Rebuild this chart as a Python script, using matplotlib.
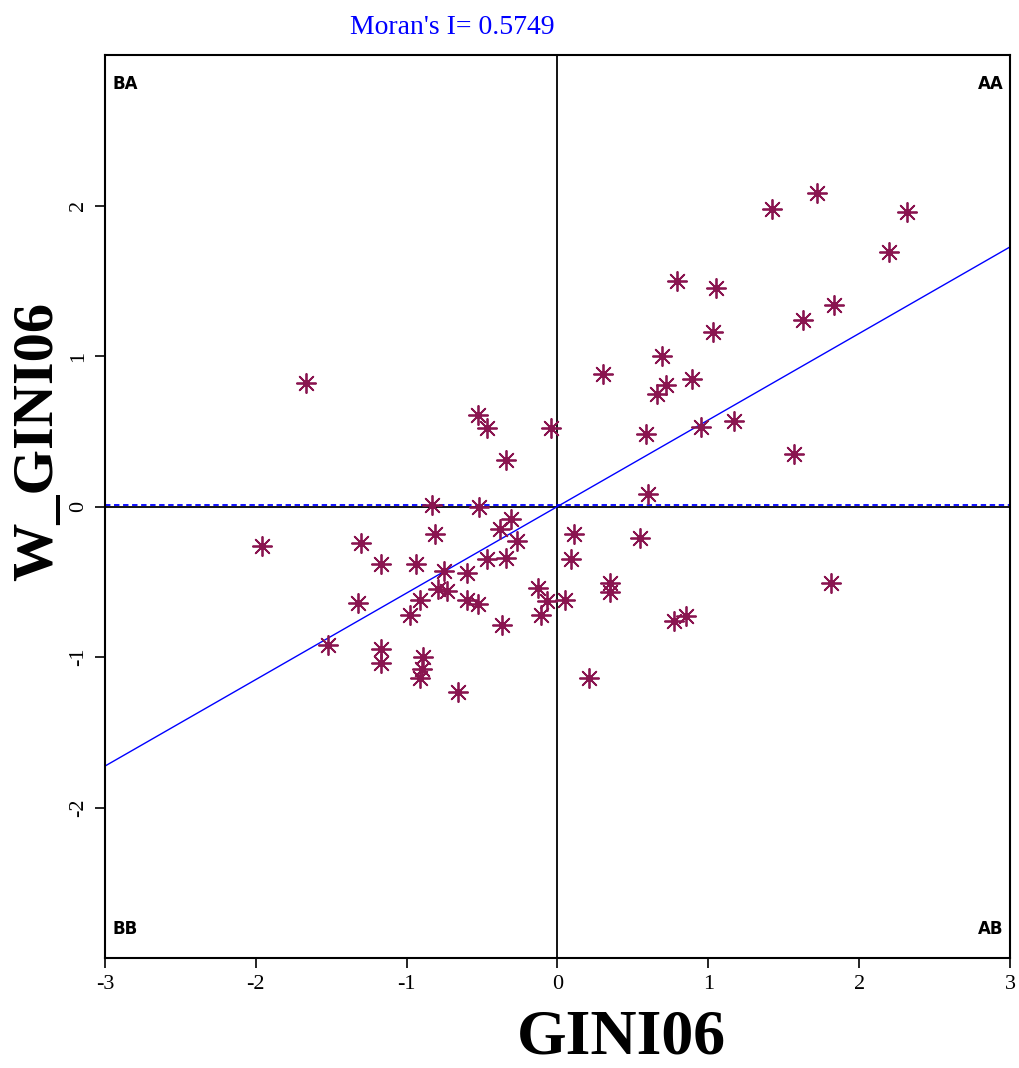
import matplotlib
matplotlib.use("Agg")
import matplotlib.pyplot as plt
import numpy as np

# --- data (standardised GINI06 and its spatial lag W_GINI06) ---
gini06 = [-1.67, -0.53, -0.47, -0.04, -0.34, -0.83, -0.52, -1.96, -1.30, -0.81,
          -0.31, -0.38, -0.27, -1.17, -0.94, -0.75, -0.60, -0.47, -0.34, -0.79,
          -0.73, -0.60, -0.53, -0.91, -1.32, -0.98, -0.37, -0.13, -0.07, -0.11,
          -1.52, -1.17, -1.17, -0.89, -0.90, -0.91, -0.66,
          0.60, 0.11, 0.55, 0.09, 0.35, 0.35, 1.81, 0.05, 0.77, 0.85, 0.21,
          1.42, 1.72, 2.32, 2.20, 0.79, 1.05, 1.83, 1.63, 1.03, 0.69, 0.30,
          0.72, 0.66, 0.89, 0.59, 0.95, 1.17, 1.57]
w_gini06 = [0.82, 0.61, 0.52, 0.52, 0.31, 0.01, 0.00, -0.26, -0.24, -0.18,
            -0.08, -0.15, -0.23, -0.38, -0.38, -0.43, -0.44, -0.35, -0.34, -0.55,
            -0.56, -0.62, -0.65, -0.62, -0.64, -0.72, -0.79, -0.54, -0.63, -0.72,
            -0.92, -0.95, -1.04, -1.00, -1.08, -1.14, -1.23,
            0.08, -0.18, -0.21, -0.35, -0.51, -0.57, -0.51, -0.62, -0.76, -0.73, -1.14,
            1.98, 2.08, 1.96, 1.69, 1.50, 1.45, 1.34, 1.24, 1.16, 1.00, 0.88,
            0.81, 0.75, 0.85, 0.48, 0.53, 0.57, 0.35]
moran_i = 0.5749
x_ticks = [-3, -2, -1, 0, 1, 2, 3]
y_ticks = [-2, -1, 0, 1, 2]
quadrants = ["BA", "AA", "BB", "AB"]

serif = ["Liberation Serif", "DejaVu Serif"]
mcolor = "#8A1550"

fig = plt.figure(figsize=(10.2, 10.68), dpi=100)
ax = fig.add_axes([105 / 1020, 110 / 1068, 905 / 1020, 903 / 1068])
ax.set_xlim(-3, 3)
ax.set_ylim(-3, 3)

ax.axvline(0, color="black", lw=1.3, zorder=1)
ax.axhline(0, color="black", lw=1.3, zorder=1)
ax.axhline(0.012, color="blue", lw=1.3, ls=(0, (3, 2)), zorder=2)
xl = np.array([-3, 3])
ax.plot(xl, moran_i * xl, color="blue", lw=1.0, zorder=2)

ax.scatter(gini06, w_gini06, marker=(8, 2, 0), s=190, color=mcolor,
           linewidths=1.3, zorder=3)
ax.scatter(gini06, w_gini06, marker="o", s=26, color=mcolor,
           linewidths=0, zorder=4)

ax.set_xticks(x_ticks)
ax.set_yticks(y_ticks)
ax.set_xticklabels([str(v) for v in x_ticks], fontfamily=serif, fontsize=16)
ax.set_yticklabels([str(v) for v in y_ticks], fontfamily=serif, fontsize=16,
                   rotation=90, va="center")
ax.tick_params(direction="out", length=7, width=1.2, pad=5)
for s in ax.spines.values():
    s.set_linewidth(1.5)

qkw = dict(transform=ax.transAxes, fontsize=12, fontweight="heavy",
           fontfamily="DejaVu Sans")
ax.text(0.008, 0.978, quadrants[0], ha="left", va="top", **qkw)
ax.text(0.993, 0.978, quadrants[1], ha="right", va="top", **qkw)
ax.text(0.008, 0.022, quadrants[2], ha="left", va="bottom", **qkw)
ax.text(0.993, 0.022, quadrants[3], ha="right", va="bottom", **qkw)

fig.text(452 / 1020, 1 - 28 / 1068, "Moran's I= %.4f" % moran_i, color="blue",
         fontfamily=serif, fontsize=20, ha="center", va="center")
fig.text(621 / 1020, 1 - 1038 / 1068, "GINI06", fontfamily=serif,
         fontweight="bold", fontsize=46, ha="center", va="center")
fig.text(38 / 1020, 1 - 441 / 1068, "W_GINI06", fontfamily=serif,
         fontweight="bold", fontsize=42, ha="center", va="center", rotation=90)

fig.savefig("out.png", dpi=100, facecolor="white")
